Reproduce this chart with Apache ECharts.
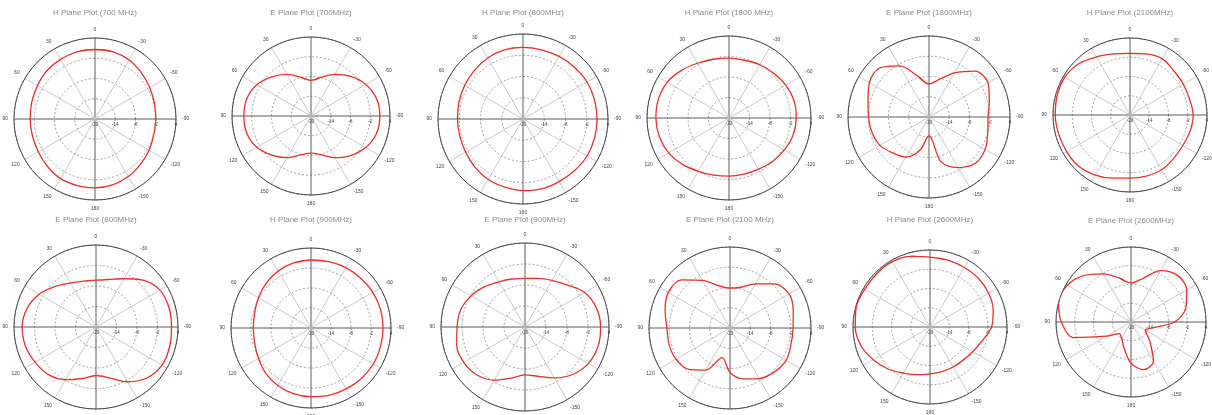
<!DOCTYPE html>
<html>
<head>
<meta charset="utf-8">
<script src="https://cdn.jsdelivr.net/npm/echarts@6/dist/echarts.min.js"></script>
<style>
  html, body { margin: 0; padding: 0; background: #fff; }
  #chart { width: 1212px; height: 415px; }
</style>
</head>
<body>
<div id="chart"></div>
<script>
// pattern angle (deg, counter-clockwise from top), 15 deg steps
const angles = [0, 15, 30, 45, 60, 75, 90, 105, 120, 135, 150, 165, 180, 195, 210, 225, 240, 255, 270, 285, 300, 315, 330, 345]
const radiusTicks = [-20, -14, -8, -2, 4]

const titles = [
  'H Plane Plot (700 MHz)', 'E Plane Plot (700MHz)', 'H Plane Plot (800MHz)',
  'H Plane Plot (1800 MHz)', 'E Plane Plot (1800MHz)', 'H Plane Plot (2100MHz)',
  'E Plane Plot (800MHz)', 'H Plane Plot (900MHz)', 'E Plane Plot (900MHz)',
  'E Plane Plot (2100 MHz)', 'H Plane Plot (2600MHz)', 'E Plane Plot (2600MHz)'
]

// gain in dB at each angle
const h700 = [0.6, 0.6, 0.4, 0.2, -0.3, -0.6, -0.8, -0.8, -0.6, -0.1, 0.4, 0.4, 0.4, 0.2, -0.3, -1, -1.5, -2, -2, -1.8, -1.3, -0.6, 0.2, 0.6]
const e700 = [-9.2, -7.8, -5.4, -3.2, -1, 0.2, 0.4, 0.2, -1, -3.2, -5.4, -7.8, -8.7, -7.8, -5.4, -3, -0.8, 0.6, 0.9, 0.6, -0.8, -3, -5.4, -7.8]
const h800 = [0.2, 0.2, -0.1, -0.6, -1, -1.3, -1.5, -1.5, -1.3, -0.8, -0.3, -0.1, 0.2, 0.4, 0.4, 0.6, 0.9, 0.9, 0.9, 0.9, 0.9, 0.6, 0.4, 0.2]
const h1800 = [-2.5, -2.2, -1.5, -0.3, 0.9, 1.4, 1.4, 1.1, 0.4, -0.8, -2, -2.7, -3, -3, -2.7, -2, -1.3, -0.6, -0.3, -0.3, -0.8, -1.5, -2, -2.5]
const e1800 = [-10.2, -7.5, -2.5, 0.6, 0.4, -1.3, -2.1, -2.5, -3.2, -4.9, -6.3, -9.9, -14.5, -6.3, -2.7, -0.6, -0.8, -2, -2.5, -1.5, 0.2, -0.8, -4.9, -8.5]
const h2100 = [-0.8, -0.3, 0.9, 2.6, 3.5, 3.5, 3.3, 3, 2.8, 2.6, 1.6, 0.4, -0.3, -0.3, -0.3, -0.8, -1, -0.6, -0.3, -0.8, -0.8, -0.6, 0.2, -0.3]
const e800 = [-6.3, -6.1, -5.1, -3.2, -0.8, 0.9, 1.6, 1.4, 0.6, -0.3, -2.2, -4.4, -5.8, -4.6, -1.5, 1.1, 2.3, 2.3, 2.1, 2.1, 1.6, -0.6, -3.7, -5.6]
const h900 = [0.4, 0.2, -0.3, -1, -1.8, -2.5, -2.7, -2.5, -1.8, -0.8, -0.1, 0.4, 0.6, 0.9, 1.1, 1.4, 1.6, 1.6, 1.6, 1.6, 1.4, 1.1, 0.9, 0.6]
const e900 = [-6.1, -5.8, -5.1, -3.7, -2.2, -1, -0.6, 0.2, 0.2, -0.6, -2.5, -4.9, -6.3, -5.4, -3.2, -0.8, 0.9, 1.6, 1.6, 1.1, -0.3, -3, -4.6, -5.6]
const e2100 = [-8.2, -7, -3.7, 0.2, 1.1, -0.1, -1.3, -1.3, -1.5, -2.7, -5.6, -10.9, -6.8, -4.4, -2.7, -1.5, -0.8, -1.3, -1.3, -0.6, 0.2, -1.5, -4.9, -7.5]
const h2600 = [1.8, 2.8, 3.5, 3.5, 3.5, 3.8, 3.3, 2.3, 0.4, -1.5, -3.4, -4.6, -5.4, -5.6, -5.6, -5.4, -4.6, -3.2, -0.8, 0.4, 1.1, 1.4, 1.4, 1.6]
const e2600 = [-7.5, -5.4, -2.2, 1.1, 3.5, 4, 2.3, -0.8, -10.9, -14.7, -14, -11.4, -6.8, -4.2, -5.6, -11.6, -14.7, -12.8, -6.1, -1.8, 0.6, 1.1, -1, -5.6]

const patterns = [h700, e700, h800, h1800, e1800, h2100, e800, h900, e900, e2100, h2600, e2600]

// layout of each small plot: centre x, centre y, radius, title y
const panels = [
  [95, 119, 81, 9], [311, 116, 79, 9], [523, 119, 85, 9],
  [729, 118, 82, 9], [929, 117, 81, 9], [1130, 115, 77, 9],
  [96, 327, 82, 216], [311, 328, 80, 216], [525, 327, 84, 216],
  [730, 328, 81, 216], [930, 327, 77, 216], [1131, 322, 75, 217]
]

// axis runs -90..270 counter-clockwise from the right, so 0 lands on top
const toAxis = (a) => (a > 270 ? a - 360 : a)

// close the loop by wrapping one point on each side so the smoothing joins up
const buildData = (gains) => {
  const n = gains.length
  const pts = gains.map((g, i) => [g, toAxis(angles[i])])
  pts.push([gains[0], toAxis(angles[0])])
  pts.push([gains[1], toAxis(angles[1])])
  pts.unshift([gains[n - 1], toAxis(angles[n - 1])])
  return pts
}

const option = {
  animation: false,
  backgroundColor: '#fff',
  title: panels.map((p, i) => ({
    text: titles[i],
    left: p[0],
    top: p[3],
    textAlign: 'center',
    padding: 0,
    textStyle: { fontSize: 8, fontWeight: 'normal', color: '#8a8a8a', fontFamily: 'Liberation Sans' }
  })),
  polar: panels.map((p) => ({ center: [p[0], p[1]], radius: p[2] })),
  angleAxis: panels.map((p, i) => ({
    polarIndex: i,
    type: 'value',
    min: -90,
    max: 270,
    interval: 30,
    startAngle: 0,
    clockwise: false,
    axisLine: { lineStyle: { color: '#444', width: 1 } },
    axisTick: { show: false },
    axisLabel: {
      fontSize: 5,
      color: '#444',
      margin: 6,
      formatter: (v) => (v === 270 ? '' : String(v > 180 ? v - 360 : v))
    },
    splitLine: { show: true, lineStyle: { color: ['#333', '#bdbdbd', '#bdbdbd'], width: 0.8 } }
  })),
  radiusAxis: panels.map((p, i) => ({
    polarIndex: i,
    type: 'value',
    min: radiusTicks[0],
    max: radiusTicks[radiusTicks.length - 1],
    interval: radiusTicks[1] - radiusTicks[0],
    axisLine: { show: false },
    axisTick: { show: false },
    axisLabel: { fontSize: 4.5, color: '#444', margin: -3, verticalAlign: 'top' },
    splitLine: { show: true, lineStyle: { color: '#777', type: [2, 2], width: 0.7 } }
  })),
  series: patterns.map((g, i) => ({
    type: 'line',
    coordinateSystem: 'polar',
    polarIndex: i,
    data: buildData(g),
    smooth: 0.33,
    showSymbol: false,
    lineStyle: { color: '#e3322b', width: 1.3 }
  }))
}

const chart = echarts.init(document.getElementById('chart'))
chart.setOption(option)
</script>
</body>
</html>
